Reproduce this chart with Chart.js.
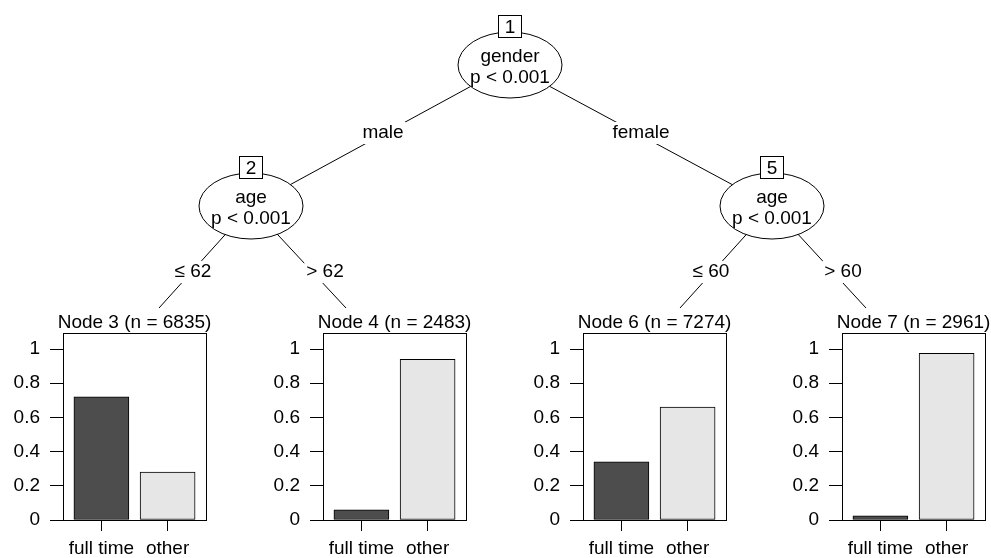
<!DOCTYPE html>
<html>
<head>
<meta charset="utf-8">
<script src="https://cdn.jsdelivr.net/npm/chart.js@4.4.1/dist/chart.umd.min.js"></script>
<style>
  html, body { margin: 0; padding: 0; background: #fff; overflow: hidden; }
  #wrap { position: relative; width: 991px; height: 558px; }
  #tree { position: absolute; left: 0; top: 0; }
  .node { position: absolute; top: 300px; }
</style>
</head>
<body>
<div id="wrap">
  <canvas id="tree" width="991" height="558"></canvas>
</div>
<script>
const FONT = "'Liberation Sans', Arial, Helvetica, sans-serif";
const FONT_SIZE = 19;

// terminal node data
const categories = ["full time", "other"];
const nodeIds = [3, 4, 6, 7];
const nodeN = [6835, 2483, 7274, 2961];
const fullTime = [0.72, 0.06, 0.34, 0.025];
const other = [0.28, 0.94, 0.66, 0.975];
const yTicks = [0, 0.2, 0.4, 0.6, 0.8, 1];
const barColors = ["#4d4d4d", "#e6e6e6"];

// inner nodes
const innerIds = [1, 2, 5];
const innerVars = ["gender", "age", "age"];
const innerP = ["p < 0.001", "p < 0.001", "p < 0.001"];
const edgeLabels = ["male", "female", "\u2264 62", "> 62", "\u2264 60", "> 60"];

// layout
const boxLeft = [63, 323, 583, 842];
const innerPos = [[510, 65], [251, 206], [772, 206]];
const edges = [
  { from: 0, to: [251, 206], lab: [383, 133] },
  { from: 0, to: [772, 206], lab: [641, 133] },
  { from: 1, to: [159, 308], lab: [193, 272] },
  { from: 1, to: [346, 308], lab: [325, 272] },
  { from: 2, to: [680, 308], lab: [711, 272] },
  { from: 2, to: [866, 308], lab: [843, 272] }
];

Chart.defaults.font.family = FONT;
Chart.defaults.font.size = FONT_SIZE;
Chart.defaults.color = "#000";

// ---- tree part ----
const tc = document.getElementById("tree").getContext("2d");
tc.font = FONT_SIZE + "px " + FONT;
tc.strokeStyle = "#000";
tc.lineWidth = 1;
tc.fillStyle = "#000";

edges.forEach(e => {
  const p = innerPos[e.from];
  tc.beginPath();
  tc.moveTo(p[0], p[1]);
  tc.lineTo(e.to[0], e.to[1]);
  tc.stroke();
});

tc.textAlign = "center";
tc.textBaseline = "middle";
edges.forEach((e, i) => {
  const w = tc.measureText(edgeLabels[i]).width;
  tc.fillStyle = "#fff";
  tc.fillRect(e.lab[0] - w / 2 - 2, e.lab[1] - 11, w + 4, 22);
  tc.fillStyle = "#000";
  tc.fillText(edgeLabels[i], e.lab[0], e.lab[1]);
});

innerPos.forEach((p, i) => {
  const [cx, cy] = p;
  tc.beginPath();
  tc.ellipse(cx, cy, 52, 33, 0, 0, Math.PI * 2);
  tc.fillStyle = "#fff";
  tc.fill();
  tc.stroke();
  tc.fillStyle = "#000";
  tc.textBaseline = "alphabetic";
  tc.fillText(innerVars[i], cx, cy - 3);
  tc.fillText(innerP[i], cx, cy + 18);
  // id box
  tc.fillStyle = "#fff";
  tc.fillRect(cx - 12, cy - 50, 24, 23);
  tc.strokeRect(cx - 11.5, cy - 49.5, 23, 22);
  tc.fillStyle = "#000";
  tc.fillText(String(innerIds[i]), cx, cy - 32);
});

// ---- terminal bar charts ----
const framePlugin = {
  id: "frame",
  afterDraw(chart, args, opts) {
    const a = chart.chartArea;
    const ctx = chart.ctx;
    ctx.save();
    ctx.strokeStyle = "#000";
    ctx.lineWidth = 1;
    ctx.strokeRect(Math.round(a.left) + 0.5, Math.round(a.top) + 0.5,
      Math.round(a.right - a.left), Math.round(a.bottom - a.top));
    ctx.fillStyle = "#000";
    ctx.font = FONT_SIZE + "px " + FONT;
    ctx.textAlign = "center";
    ctx.textBaseline = "alphabetic";
    ctx.fillText(opts.title, (a.left + a.right) / 2, a.top - 5);
    ctx.restore();
  }
};

nodeIds.forEach((id, i) => {
  const div = document.createElement("div");
  div.className = "node";
  const left = boxLeft[i] - 63;
  const width = Math.min(220, 991 - left);
  div.style.left = left + "px";
  const cv = document.createElement("canvas");
  cv.width = width;
  cv.height = 258;
  div.appendChild(cv);
  document.getElementById("wrap").appendChild(div);

  new Chart(cv, {
    type: "bar",
    data: {
      datasets: [{
        data: [{ x: 1, y: fullTime[i] }, { x: 2, y: other[i] }],
        backgroundColor: barColors,
        borderColor: "#000",
        borderWidth: 1,
        borderSkipped: false,
        barThickness: 55
      }]
    },
    options: {
      responsive: false,
      animation: false,
      events: [],
      layout: { padding: { top: 33, right: width - 206, left: 0, bottom: 0 } },
      plugins: {
        legend: { display: false },
        tooltip: { enabled: false },
        frame: { title: "Node " + id + " (n = " + nodeN[i] + ")" }
      },
      scales: {
        x: {
          type: "linear",
          offset: false,
          min: 0.42,
          max: 2.58,
          afterBuildTicks: s => { s.ticks = [{ value: 1 }, { value: 2 }]; },
          afterFit: s => { s.height = 38; },
          ticks: {
            callback: v => categories[v - 1],
            padding: 6,
            maxRotation: 0,
            autoSkip: false,
            color: "#000"
          },
          grid: { offset: false, drawOnChartArea: false, tickLength: 11, color: "#000" },
          border: { display: false }
        },
        y: {
          min: 0,
          max: 1.094,
          afterBuildTicks: s => { s.ticks = yTicks.map(v => ({ value: v })); },
          afterFit: s => { s.width = 63; },
          ticks: {
            callback: v => String(v),
            padding: 10,
            color: "#000"
          },
          grid: { drawOnChartArea: false, tickLength: 13, color: "#000" },
          border: { display: false }
        }
      }
    },
    plugins: [framePlugin]
  });
});
</script>
</body>
</html>
